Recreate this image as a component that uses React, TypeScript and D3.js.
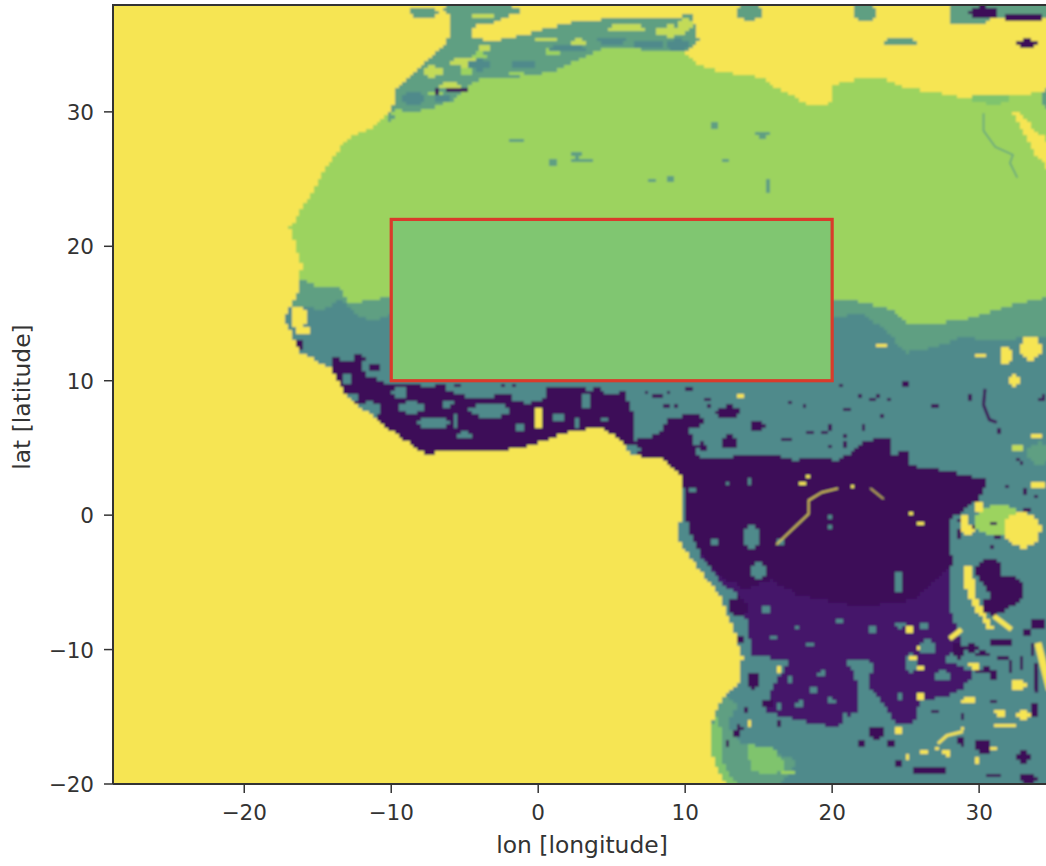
import React, { useMemo } from 'react';
import * as d3 from 'd3';

type Pt = [number, number];
type Blob = [number, number, number, number]; // lon, lat, half width, half height

const width = 1046;
const height = 866;

const lonTicks = [-20, -10, 0, 10, 20, 30];
const latTicks = [-20, -10, 0, 10, 20, 30];
const lonDomain: Pt = [-28.93, 34.55];
const latDomain: Pt = [-20, 37.95];
const box = { lon0: -10, lon1: 20, lat0: 10, lat1: 22 };
const cell = 0.25;

const colors = {
  yellow: '#f6e553',
  pale: '#c3db58',
  desert: '#9cd35f',
  coastGreen: '#7fc46d',
  mid: '#5e9f82',
  teal: '#4f8a8b',
  purple: '#45196b',
  dark: '#3e0c58',
};

const atlantic: Pt[] = [[-6.2, 39], [-6, 36.5], [-6, 35.7], [-6.3, 35], [-8, 33.5], [-9.7, 31.6], [-9.9, 30.3], [-11.1, 29], [-13.1, 27.9], [-14.5, 25.7], [-15.5, 23.8], [-16.9, 21.4], [-16.4, 19.7], [-16.1, 18.6], [-16.3, 16.7], [-17.3, 14.7], [-16.6, 13], [-16.2, 12.1], [-14.1, 10.9], [-13.1, 8.9], [-11.8, 7.8], [-9.7, 6], [-7.7, 4.5], [-6, 4.8], [-2.2, 4.8], [-0.5, 5.2], [2.2, 6.2], [4.2, 6.5], [5.6, 5.6], [6.3, 4.5], [8.6, 4.1], [9.8, 2.8], [9.7, 0.4], [9.5, -1.9], [11, -4.1], [12.4, -6.1], [13.3, -8.6], [13.9, -10.6], [13.7, -12.3], [12.6, -13.5], [11.8, -15.3], [11.7, -17.3], [12.2, -19], [12.9, -20.2], [13, -21], [-30, -21], [-30, 39]];
const mediterranean: Pt[] = [[-0.7, 39], [-2.6, 36.7], [-5.3, 36.2], [-5.6, 35.9], [-3.1, 35.2], [-1.2, 35.7], [2, 36.6], [5.1, 37], [8.3, 37], [10.5, 37.2], [10.9, 35.3], [10, 34.4], [11, 33.5], [12.4, 33], [14.4, 32.7], [15.4, 32.4], [15.8, 32], [16.8, 31.5], [18.5, 30.5], [19.5, 30.4], [20, 30.9], [20.1, 32], [21.9, 32.5], [23.6, 32.4], [25, 31.8], [28, 31.3], [29.2, 30.9], [29.9, 31.3], [32.1, 31.3], [34.1, 31.4], [35, 31.4], [35, 39]];
const redSea: Pt[] = [[32.3, 29.9], [32.8, 29.9], [33.7, 28.7], [34.6, 28], [35, 25.4], [34, 26.6]];
const sahelFringe: Pt[] = [[-18, 17.3], [-16, 17.5], [-15, 17], [-13.7, 17], [-13, 16.2], [-12.8, 15.6], [-11.5, 16], [-10.5, 16.2], [-2.6, 16.7], [20.1, 16], [21, 16.1], [21.9, 15.8], [23, 15.6], [24.1, 15.3], [25, 14.4], [26, 14.1], [27, 14.3], [28.7, 14.5], [30.5, 15], [32.1, 15.6], [34.1, 16.1], [35, 16.4], [35, -21], [-30, -21]];
const sahel: Pt[] = [[-18, 15.6], [-16, 15.6], [-14.8, 15.2], [-13.5, 16], [-12.4, 15], [-11.4, 14.4], [-10.1, 14.9], [20.1, 14.7], [21.9, 15.1], [23.6, 13.8], [25, 12.1], [26.7, 12.4], [28.7, 13.2], [31.4, 13], [35, 13.4], [35, -21], [-30, -21]];
const atlasBand: Pt[] = [[-10.3, 29.2], [-9, 29.9], [-8, 30.1], [-6.9, 30.4], [-5.8, 30.9], [-4.9, 31.8], [-3.9, 32.5], [-1.7, 32.6], [-0.3, 32.7], [1.2, 33.1], [2.9, 33.9], [4.7, 34.8], [7.4, 34.6], [10.3, 34.4], [11, 35.3], [11, 38], [-11, 38]];
const westForest: Pt[] = [[-13.9, 11.7], [-12, 11.4], [-11.8, 10.2], [-9.7, 9.7], [-0.9, 9.7], [5.9, 9.3], [6.4, 7.8], [6.6, 5.6], [8.3, 6], [8.8, 7.2], [10, 7.4], [11, 4], [10, 2], [-14, 2]];
const southWoodland: Pt[] = [[14, -7.1], [14.6, -10.4], [17.1, -10.9], [15.8, -13], [15.4, -14.7], [20.2, -15.8], [21.8, -14.5], [21.6, -11.9], [20.9, -10.8], [22.9, -10.9], [22.4, -12.6], [23.8, -14.5], [24.3, -15.6], [25.6, -15.4], [26, -13.8], [28, -13.4], [28.8, -13], [29.7, -11.7], [27.7, -10.8], [28.7, -9.3], [27.9, -6.3], [28, -1.9], [21.2, -1.9], [11, -3]];
const congo: Pt[] = [[9.9, 4.1], [15.8, 4.6], [17.3, 4.1], [19, 4.2], [20.5, 4.1], [22.4, 5.6], [23.9, 5.7], [24.1, 4.5], [25.2, 4.8], [25.3, 3.7], [27.8, 3.3], [28.7, 3.1], [30.7, 2.6], [29.9, 1.1], [28, -0.4], [28, -1.9], [28.2, -3.7], [26.3, -5.6], [25.6, -6.3], [21.9, -6.8], [17.8, -6], [15.8, -4.8], [14.1, -5.6], [11.7, -3.9], [10.5, -1.9], [9.9, 0.4]];
const namibFringe: Pt[] = [[12.6, -13.4], [13.6, -14.1], [12.9, -15.6], [13.8, -17], [15.2, -17.3], [17.6, -18.3], [16.9, -19.4], [15.8, -21], [12, -21], [11, -17]];
const namibCoast: Pt[] = [[12.2, -15], [12.6, -16.5], [12.6, -18.5], [13.6, -20.2], [14, -21], [12, -21], [11, -17]];
const namibInner: Pt[] = [[14.3, -17], [16, -17.4], [16.9, -18.8], [15.5, -19.4], [14.4, -18.8]];
const nileDelta: Pt[] = [[29.4, 30.9], [30, 31.5], [31.9, 31.5], [32.1, 31], [31.3, 30.4], [30.4, 30.7]];
const tanganyika: Pt[] = [[29, -3.6], [29.5, -3.9], [29.8, -6.1], [30.9, -8.3], [31.1, -8.6], [30.6, -8.4], [29.5, -6.5], [29, -5]];

const tealHoles: Blob[] = [[-8.5, 31, 0.9, 0.5], [-6.5, 31, 0.6, 0.3], [-4, 33.5, 0.9, 0.4], [-1, 33.5, 0.9, 0.35], [2, 34.7, 1.2, 0.3], [5, 35.3, 1, 0.3], [7.5, 35, 1.2, 0.3], [9.5, 34.9, 0.7, 0.5], [-8.6, 8, 1, 0.4], [-7.1, 6.9, 1.15, 0.4], [-3.3, 7.8, 1.4, 0.5], [-3.9, 9.3, 1.9, 0.5], [-0.7, 9.1, 1.2, 0.75], [-9.4, 9.2, 0.5, 0.4], [6.1, 4.8, 0.8, 0.5], [-11.5, 7.8, 0.8, 0.6], [-5, 5.9, 0.5, 0.25], [1.4, 7.2, 0.4, 0.3], [3.2, 8.5, 0.3, 0.5], [-7.5, 9.6, 0.4, 0.2], [-5.9, 9.5, 0.25, 0.3], [-2, 9.6, 0.3, 0.3], [2, 9.6, 0.5, 0.2], [3.6, 9.5, 0.3, 0.2], [4.9, 9.3, 0.6, 0.3], [-6.2, 8.3, 0.4, 0.2], [-1.3, 6.5, 0.3, 0.2], [-5.6, 7, 0.2, 0.4], [4.5, 7.2, 0.2, 0.2], [-12.7, 8.7, 0.5, 0.4], [-13, 10.2, 0.35, 0.35], [2.6, 6.9, 0.15, 0.3], [14.5, -1.6, 0.5, 1], [15, -4.1, 0.5, 0.7], [24.5, -5, 0.3, 0.7], [13, -6, 0.5, 0.4], [15.5, -7, 0.3, 0.3], [17.8, -14.1, 0.25, 0.25], [19.9, -13.8, 0.25, 0.2], [18.8, -13, 0.3, 0.2], [17.1, -12.3, 0.2, 0.3], [14.4, -12.4, 0.7, 0.6], [26.5, -9.8, 0.6, 0.5], [25.4, -11, 0.4, 0.7], [27.5, -11.9, 0.5, 0.4], [20.5, -7.9, 0.2, 0.2], [22.8, -8.5, 0.2, 0.3], [12.1, -2, 0.3, 0.3], [16.5, -2, 0.25, 0.3], [14.4, 2.5, 0.15, 0.15], [19.9, -0.1, 0.2, 0.15], [19.9, -0.9, 0.2, 0.15], [10.5, 1.9, 0.2, 0.2], [9.9, -0.3, 0.2, 0.9], [12.8, 2.3, 0.15, 0.15], [16, -9.2, 0.2, 0.2], [17.7, -8.3, 0.15, 0.15], [18.5, -9.7, 0.25, 0.2], [24.6, -8.2, 0.3, 0.25], [26.2, -8.3, 0.3, 0.3], [19.3, -11.8, 0.2, 0.2], [16.4, -14.2, 0.2, 0.2], [20.8, -15, 0.2, 0.15], [24.7, -13.5, 0.2, 0.2]];
const darkSpots: Blob[] = [[-12.2, 11.7, 0.4, 0.3], [-16.3, 12.7, 0.4, 0.4], [-11.7, 9.9, 0.7, 0.4], [10.5, 7, 0.7, 0.45], [12.9, 7.7, 0.8, 0.45], [14.9, 6.7, 0.5, 0.4], [13, 5.4, 0.6, 0.5], [9, 5.6, 0.7, 0.75], [11.2, 5.1, 0.4, 0.3], [8, 9, 0.15, 0.15], [9.4, 8.1, 0.2, 0.15], [20.6, 9.6, 0.2, 0.2], [17.2, 8.3, 0.15, 0.15], [23.3, 5.3, 0.3, 0.2], [27, 8.1, 0.2, 0.2], [25, 9.8, 0.3, 0.2], [27, -19, 0.9, 0.3], [25.9, -19, 0.6, 0.2], [30.3, -17.2, 0.55, 0.55], [33, -18, 0.4, 0.4], [33.3, -19.6, 0.6, 0.35], [13.5, -16.2, 0.3, 0.25], [12.9, -17, 0.15, 0.15], [28.6, -10.1, 0.4, 0.6], [29.5, -9.9, 0.4, 0.4], [30.7, -4.2, 0.9, 1], [31.8, -5.6, 1.2, 1.2], [31, -6.8, 0.9, 0.6], [34, -8.1, 0.6, 0.4], [31.5, -9.5, 0.9, 0.3], [30.5, -11.6, 0.8, 0.25], [13.6, -6.8, 0.6, 0.7], [28.8, -16.8, 0.3, 0.4], [24.5, -18.5, 0.4, 0.25], [22, -17, 0.3, 0.2], [31, -19.4, 0.5, 0.2], [33.8, -14.5, 0.3, 0.5], [8.8, 9.1, 0.16, 0.16], [11.5, 8.7, 0.2, 0.16], [11.6, 8.2, 0.2, 0.16], [8.8, 8.2, 0.2, 0.16], [21.9, 8.9, 0.16, 0.16], [23.1, 8.9, 0.16, 0.16], [22.8, 8.7, 0.2, 0.16], [23.8, 8.6, 0.16, 0.16], [18.2, 8.2, 0.16, 0.16], [21.1, 7.9, 0.25, 0.16], [23.3, 7.4, 0.16, 0.16], [22.1, 6.5, 0.16, 0.16], [19.9, 6.5, 0.2, 0.16], [19.5, 6.1, 0.2, 0.2], [18.5, 6.2, 0.16, 0.16], [20.9, 5.8, 0.2, 0.16], [16.6, 5.6, 0.16, 0.16], [17, 5.6, 0.16, 0.16], [19.9, 5.1, 0.16, 0.16], [20.9, 5.2, 0.2, 0.2], [29.4, 8.7, 0.2, 0.2], [34.3, 8.7, 0.2, 0.2], [31.4, 6.2, 0.16, 0.3], [32.6, 4.1, 0.16, 0.16], [32.9, 3.9, 0.16, 0.16], [7.4, 9.1, 0.2, 0.16], [8.3, 8.8, 0.2, 0.16], [7.8, 8.8, 0.16, 0.16], [10.3, 9.3, 0.2, 0.16], [-11.1, 11, 0.5, 0.15], [31.9, 2.1, 0.2, 0.2], [33.1, 1.8, 0.2, 0.2], [33.9, 1.3, 0.15, 0.15], [33.2, 0.4, 0.2, 0.2], [30, 0.9, 0.15, 0.15], [28.9, -0.4, 0.3, 0.3], [29.5, -1.1, 0.2, 0.3], [31, -0.6, 0.3, 0.2], [31.3, -1.6, 0.2, 0.2], [30.8, -2.4, 0.15, 0.2], [28.6, -1.4, 0.2, 0.3], [23, -16.2, 0.6, 0.5], [24, -17, 0.4, 0.2], [27.1, -14.7, 0.3, 0.15], [28.9, -15, 0.2, 0.2], [31, -13.8, 0.2, 0.2], [32.1, -11.3, 0.2, 0.5], [31, -12.1, 0.25, 0.3], [30.3, -10.3, 0.5, 0.2], [31.6, -10.6, 0.4, 0.15], [32.8, -11, 0.15, 0.5], [33.3, -8.8, 0.3, 0.3], [33.6, -10, 0.2, 0.6], [33.9, -12, 0.2, 0.9], [13.7, -9.3, 0.3, 0.3], [14.6, -12.3, 0.4, 0.6], [15.6, -14, 0.4, 0.3], [16.3, -15.5, 0.2, 0.2], [14.2, -14.5, 0.2, 0.15], [13.7, -15.8, 0.25, 0.2], [13, -4.6, 0.4, 0.4], [12.6, -3.3, 0.3, 0.3]];
const yellowSpots: Blob[] = [[33.5, 12.4, 0.7, 0.9], [30.2, 11.9, 0.4, 0.2], [31.8, 11.9, 0.4, 0.6], [32.4, 10, 0.3, 0.5], [23.3, 12.6, 0.4, 0.15], [13.7, 8.9, 0.25, 0.15], [33.8, 5.8, 0.4, 0.15], [34, 2.3, 0.6, 0.3], [32.9, -1.1, 1.25, 1.3], [0, 7.3, 0.2, 0.9], [-16.3, 14.7, 0.5, 0.9], [-16, 13.8, 0.5, 0.3], [25.3, -8.5, 0.3, 0.3], [26, -13.6, 0.3, 0.3], [24.5, -16, 0.4, 0.2], [31.8, -15.7, 0.8, 0.15], [31.4, -14.7, 0.3, 0.3], [33, -14.9, 0.4, 0.4], [16.3, -11.5, 0.3, 0.15], [14.4, -15.5, 0.2, 0.25], [29.7, -11.2, 0.35, 0.25], [32.7, -12.6, 0.5, 0.4], [29.3, -13.8, 0.5, 0.3], [19.1, 19.7, 0.1, 0.1], [29.2, -1.1, 0.5, 0.3], [30, 0.6, 0.3, 0.5], [29, -0.4, 0.2, 0.6], [26, -0.6, 0.16, 0.16], [25.4, 0.1, 0.16, 0.16], [18, 2.4, 0.16, 0.16], [18.4, 2.8, 0.16, 0.16], [21.4, 2.1, 0.16, 0.16], [25.8, -9.8, 0.16, 0.16], [25.5, -10.6, 0.16, 0.16], [26, -11.4, 0.16, 0.16], [27.1, -17.3, 0.2, 0.16], [27.8, -17.7, 0.2, 0.2], [31.6, -14.7, 0.2, 0.2], [25.1, -18, 0.2, 0.16], [26.2, -17.7, 0.2, 0.16], [28.9, -15.8, 0.2, 0.16], [29.9, -18.2, 0.2, 0.2], [31, -17.3, 0.2, 0.2]];
const greenSpots: Blob[] = [[31.4, -0.4, 1.7, 1.1], [-9.5, 29.9, 0.5, 0.3], [-4, 34.2, 0.6, 0.2], [-7, 31.4, 0.5, 0.2], [-4.9, 33, 0.5, 0.2], [-1.5, 32.9, 0.6, 0.2], [1, 34.5, 0.6, 0.2], [16.9, -19.1, 0.5, 0.2]];
const paleSpots: Blob[] = [[-7.2, 33, 0.7, 0.4], [-5, 33.7, 0.9, 0.35], [-3.6, 34.8, 0.4, 0.3], [0.5, 35.4, 0.8, 0.2], [2.8, 35.2, 0.5, 0.2], [6, 36.2, 1.2, 0.3], [9, 36, 1, 0.4], [10, 36.5, 0.4, 0.5], [-6, 31.9, 0.7, 0.3], [-3.7, 37.2, 0.8, 0.3], [32.6, 5, 0.5, 0.2]];
const northPatches: Blob[] = [[-7.8, 37.4, 1, 0.45], [-5, 37.6, 1.5, 0.5], [-2.5, 37.5, 1.4, 0.4], [-5, 36, 0.5, 0.5], [14.4, 37.4, 0.9, 0.6], [24.7, 35.2, 1.2, 0.25], [22.2, 37.4, 0.8, 0.7], [29.5, 37.4, 1.6, 1], [32, 37.6, 2, 0.6], [34.4, 37.6, 1, 0.6], [28.2, 36.8, 0.3, 0.3], [34.6, 31, 0.4, 0.7], [34.1, 4.6, 0.8, 0.8]];
const northDark: Blob[] = [[-5.4, 31.6, 0.8, 0.1], [-6.8, 31.6, 0.1, 0.4], [-8.1, 30.5, 0.3, 0.1], [30.3, 37.4, 1, 0.5], [33, 37, 1.3, 0.3], [33.2, 35.1, 0.8, 0.3], [5.5, 35.5, 0.1, 0.1], [4, 35.1, 0.1, 0.1], [-3.8, 33.3, 0.1, 0.1]];
const desertSpecks: Blob[] = [[-1.5, 27.9, 0.4, 0.2], [3, 26.4, 0.8, 0.2], [2.6, 26.8, 0.3, 0.2], [1, 26.3, 0.3, 0.3], [7.8, 24.9, 0.3, 0.2], [9, 25, 0.3, 0.2], [12, 29, 0.3, 0.3], [15.3, 28.3, 0.5, 0.2], [12.7, 26.3, 0.3, 0.15], [15.6, 24.6, 0.1, 0.5]];
const nile: Pt[] = [[30.3, 29.9], [30.3, 28.6], [31.1, 27.4], [32.3, 26.8], [32.1, 26.2], [32.6, 25.1]];

const rivers = [
  { color: '#d9c94e', width: 1.8, points: [[16.2, -2.2], [18.4, 0.1], [18.4, 1.1], [19.3, 1.7], [20.4, 2]] as Pt[] },
  { color: '#d9c94e', width: 1.5, points: [[22.6, 2], [23.5, 1.2]] as Pt[] },
  { color: '#f6e553', width: 5, points: [[31, -7.5], [32.2, -8.5]] as Pt[] },
  { color: '#f6e553', width: 5, points: [[28, -9.2], [28.8, -8.5]] as Pt[] },
  { color: '#f6e553', width: 7, points: [[34, -9.5], [34.8, -13]] as Pt[] },
  { color: '#f6e553', width: 3, points: [[27.2, -17], [27.8, -16.4], [28.9, -16.1]] as Pt[] },
  { color: colors.dark, width: 3, points: [[30.4, 9.4], [30.3, 8.2], [30.7, 7.1], [31.2, 6.9]] as Pt[] },
  { color: colors.dark, width: 3.5, points: [[33.9, -11.5], [33.9, -13.2]] as Pt[] },
  { color: colors.mid, width: 1.5, points: nile },
];

const polygonLayers: { color: string; polygon: Pt[] }[] = [
  { color: colors.mid, polygon: sahelFringe },
  { color: colors.teal, polygon: sahel },
  { color: colors.mid, polygon: atlasBand },
  { color: colors.purple, polygon: southWoodland },
  { color: colors.dark, polygon: congo },
  { color: colors.dark, polygon: westForest },
  { color: colors.mid, polygon: namibFringe },
  { color: colors.coastGreen, polygon: namibCoast },
  { color: colors.coastGreen, polygon: namibInner },
  { color: colors.coastGreen, polygon: nileDelta },
];
const oceanLayers: Pt[][] = [atlantic, mediterranean, redSea];

const inBlob = (b: Blob, lon: number, lat: number) =>
  ((lon - b[0]) / b[2]) ** 2 + ((lat - b[1]) / b[3]) ** 2 <= 1;

export default function App() {
  const x = d3.scaleLinear().domain(lonDomain).range([113, 1046]);
  const y = d3.scaleLinear().domain(latDomain).range([784, 5]);
  const line = d3.line<Pt>().x((d) => x(d[0])).y((d) => y(d[1]));

  // rasterise the classes on a lon/lat grid, the way the original is a grid
  const paths = useMemo(() => {
    const lons = d3.range(-30, 35.25, cell);
    const lats = d3.range(-21, 39, cell);
    const byColor = new Map<string, string>();
    for (const lat of lats) {
      let runColor = '';
      let runStart = 0;
      const top = Math.round(y(lat + cell));
      const bottom = Math.round(y(lat));
      const flush = (end: number) => {
        if (!runColor) return;
        const r = `M${Math.round(x(runStart))},${top}H${Math.round(x(end))}V${bottom}H${Math.round(x(runStart))}Z`;
        byColor.set(runColor, (byColor.get(runColor) ?? '') + r);
      };
      for (const lon of lons) {
        const p: Pt = [lon + cell / 2, lat + cell / 2];
        const hit = (list: Blob[]) => list.some((b) => inBlob(b, p[0], p[1]));
        let c = colors.desert;
        for (const layer of polygonLayers) if (d3.polygonContains(layer.polygon, p)) c = layer.color;
        if (hit(desertSpecks)) c = colors.mid;
        if (hit(greenSpots)) c = colors.desert;
        if (hit(paleSpots)) c = colors.pale;
        if (hit(tealHoles)) c = colors.teal;
        if (hit(darkSpots)) c = colors.dark;
        if (hit(northDark)) c = colors.dark;
        if (oceanLayers.some((o) => d3.polygonContains(o, p))) c = colors.yellow;
        if (d3.polygonContains(tanganyika, p)) c = colors.yellow;
        if (hit(yellowSpots)) c = colors.yellow;
        if (hit(northPatches)) c = colors.mid;
        if (northDark.some((b) => b[1] > 34.5 && inBlob(b, p[0], p[1]))) c = colors.dark;
        if (c !== runColor) {
          flush(lon);
          runColor = c;
          runStart = lon;
        }
      }
      flush(35.25);
    }
    return Array.from(byColor, ([color, d]) => ({ color, d }));
  }, []);

  const tickFont = { fontFamily: 'DejaVu Sans', fontSize: 21.5, fill: '#333' };
  const labelFont = { fontFamily: 'DejaVu Sans', fontSize: 23.4, fill: '#333' };
  const fmt = (v: number) => (v < 0 ? `\u2212${-v}` : `${v}`);

  return (
    <svg width={width} height={height} style={{ position: 'absolute', left: 0, top: 0, background: '#fff' }}>
      <defs>
        <clipPath id="plot">
          <rect x={113} y={5} width={933} height={779} />
        </clipPath>
        <filter id="soft" x="-2%" y="-2%" width="104%" height="104%">
          <feGaussianBlur stdDeviation="0.8" />
        </filter>
      </defs>

      <g clipPath="url(#plot)">
        <g filter="url(#soft)">
          {paths.map((p) => (
            <path key={p.color} d={p.d} fill={p.color} shapeRendering="crispEdges" />
          ))}
          {rivers.map((r, i) => (
            <path key={i} d={line(r.points) ?? ''} fill="none" stroke={r.color} strokeWidth={r.width} />
          ))}
        </g>
        <rect
          x={x(box.lon0)}
          y={y(box.lat1)}
          width={x(box.lon1) - x(box.lon0)}
          height={y(box.lat0) - y(box.lat1)}
          fill="#80c671"
          stroke="#d93b2b"
          strokeWidth={3.2}
        />
      </g>

      <path d="M113,784V5H1046M113,784H1046" fill="none" stroke="#333" strokeWidth={2} />

      {lonTicks.map((t) => (
        <g key={t} transform={`translate(${x(t)},784)`}>
          <line y2={9} stroke="#333" strokeWidth={1.5} />
          <text y={36} textAnchor="middle" {...tickFont}>{fmt(t)}</text>
        </g>
      ))}
      {latTicks.map((t) => (
        <g key={t} transform={`translate(113,${y(t)})`}>
          <line x2={-9} stroke="#333" strokeWidth={1.5} />
          <text x={-19} y={8} textAnchor="end" {...tickFont}>{fmt(t)}</text>
        </g>
      ))}
      <text x={582} y={853} textAnchor="middle" {...labelFont}>lon [longitude]</text>
      <text transform="translate(30,397) rotate(-90)" textAnchor="middle" {...labelFont}>lat [latitude]</text>
    </svg>
  );
}
